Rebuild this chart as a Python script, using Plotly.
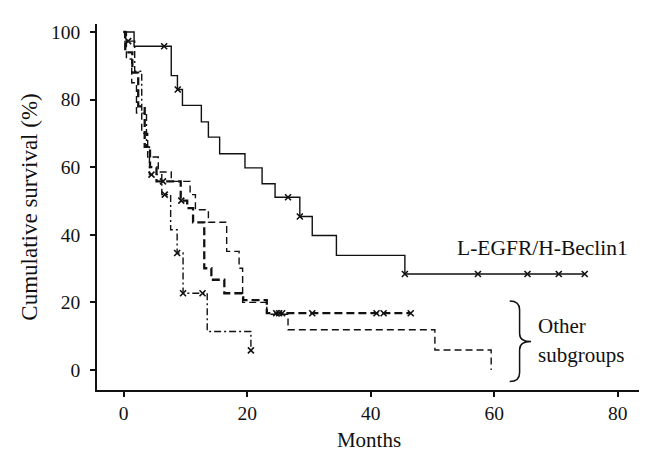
import plotly.graph_objects as go

# ---- data (months, cumulative survival %) ----
solid_t = [0, 1.70, 7.72, 8.72, 9.53, 12.59, 13.73, 15.55, 19.65, 22.42, 24.52, 28.53, 30.54, 34.45, 45.53, 74.64]
solid_s = [100, 95.8, 87.1, 83.0, 78.3, 73.4, 68.9, 64.0, 59.8, 55.1, 51.1, 45.4, 39.8, 33.9, 28.4, 28.4]
solid_cens_t = [6.57, 8.77, 26.62, 28.53, 45.53, 57.36, 65.38, 70.44, 74.64]
solid_cens_s = [95.8, 83.0, 51.1, 45.4, 28.4, 28.4, 28.4, 28.4, 28.4]

heavy_t = [0, 0.27, 1.42, 2.37, 3.42, 4.28, 5.33, 9.25, 10.30, 11.25, 13.06, 14.21, 16.31, 19.37, 23.18, 46.48]
heavy_s = [100, 94, 88, 78, 66, 60, 55.8, 50.1, 47.9, 43.7, 30.1, 26.7, 22.7, 20.7, 16.8, 16.8]
heavy_cens_t = [6.38, 9.34, 24.71, 25.19, 25.67, 30.54, 40.94, 42.09, 46.48]
heavy_cens_s = [55.8, 50.1, 16.8, 16.8, 16.8, 16.8, 16.8, 16.8, 16.8]

light_t = [0, 0.46, 1.32, 2.09, 2.94, 3.90, 5.62, 7.72, 10.77, 11.63, 13.73, 16.69, 18.70, 19.27, 23.18, 26.62, 50.39, 59.5]
light_s = [100, 92, 85, 76, 70, 63, 58.6, 55.8, 51.9, 47.4, 43.7, 35.1, 30.1, 20.0, 16.5, 11.9, 5.9, 0]

dd_t = [0, 0.18, 1.80, 2.94, 3.71, 4.19, 6.19, 7.62, 8.67, 9.63, 13.54, 20.61]
dd_s = [100, 97.3, 88.4, 76, 66, 57.8, 51.9, 41.5, 34.6, 22.7, 11.4, 5.8]
dd_cens_t = [0.75, 4.52, 6.67, 8.67, 9.63, 12.78, 20.61]
dd_cens_s = [97.3, 57.8, 51.9, 34.6, 22.7, 22.7, 5.8]

x_ticks = [0, 20, 40, 60, 80]
y_ticks = [0, 20, 40, 60, 80, 100]

FONT = "Liberation Serif"
BLACK = "#111111"

fig = go.Figure()

def step(t, s, dash, width):
    fig.add_trace(go.Scatter(x=t, y=s, mode="lines", line_shape="hv",
                             line=dict(color=BLACK, width=width, dash=dash),
                             hoverinfo="skip", showlegend=False))

def cens(t, s):
    fig.add_trace(go.Scatter(x=t, y=s, mode="markers",
                             marker=dict(symbol="x-thin", size=6, color=BLACK,
                                         line=dict(color=BLACK, width=1.6)),
                             hoverinfo="skip", showlegend=False))

step(dd_t, dd_s, "7px,3px,2px,3px", 1.4)
step(light_t, light_s, "7px,4px", 1.4)
step(heavy_t, heavy_s, "8px,4px", 2.3)
step(solid_t, solid_s, "solid", 1.4)
cens(dd_cens_t, dd_cens_s)
cens(heavy_cens_t, heavy_cens_s)
cens(solid_cens_t, solid_cens_s)

# brace
fig.add_shape(type="path", xref="x", yref="y",
              path="M 62.5,20.4 Q 64.1,20.4 64.1,17.8 L 64.1,10.8 Q 64.1,8.4 65.95,8.4 "
                   "Q 64.1,8.4 64.1,6.0 L 64.1,-0.8 Q 64.1,-3.4 62.5,-3.4",
              line=dict(color=BLACK, width=1.5))

fig.add_annotation(x=53.66, y=36.2, xref="x", yref="y", text="L-EGFR/H-Beclin1",
                   showarrow=False, xanchor="left", yanchor="middle",
                   font=dict(family=FONT, size=21.5, color=BLACK))
fig.add_annotation(x=66.76, y=12.9, xref="x", yref="y", text="Other",
                   showarrow=False, xanchor="left", yanchor="middle",
                   font=dict(family=FONT, size=21, color=BLACK))
fig.add_annotation(x=66.76, y=4.4, xref="x", yref="y", text="subgroups",
                   showarrow=False, xanchor="left", yanchor="middle",
                   font=dict(family=FONT, size=21, color=BLACK))

fig.update_layout(
    width=647, height=458,
    margin=dict(l=89, r=14, t=16, b=76),
    paper_bgcolor="white", plot_bgcolor="white",
    font=dict(family=FONT, size=19, color=BLACK),
    showlegend=False,
)
fig.update_xaxes(range=[-4.3, 83.75], tickvals=x_ticks, ticks="outside", ticklen=5,
                 tickwidth=1.5, tickcolor=BLACK, showline=True, linecolor=BLACK,
                 linewidth=1.5, showgrid=False, zeroline=False, automargin=False,
                 tickfont=dict(family=FONT, size=19.5, color=BLACK),
                 title=dict(text="Months", standoff=9,
                            font=dict(family=FONT, size=21, color=BLACK)))
fig.update_yaxes(range=[-5.92, 102.37], tickvals=y_ticks, ticks="outside", ticklen=5,
                 tickwidth=1.5, tickcolor=BLACK, showline=True, linecolor=BLACK,
                 linewidth=1.5, showgrid=False, zeroline=False, automargin=False,
                 tickfont=dict(family=FONT, size=19.5, color=BLACK),
                 ticklabelstandoff=6,
                 title=dict(text="Cumulative survival (%)", standoff=7,
                            font=dict(family=FONT, size=23, color=BLACK)))

fig.write_html("out.html")
